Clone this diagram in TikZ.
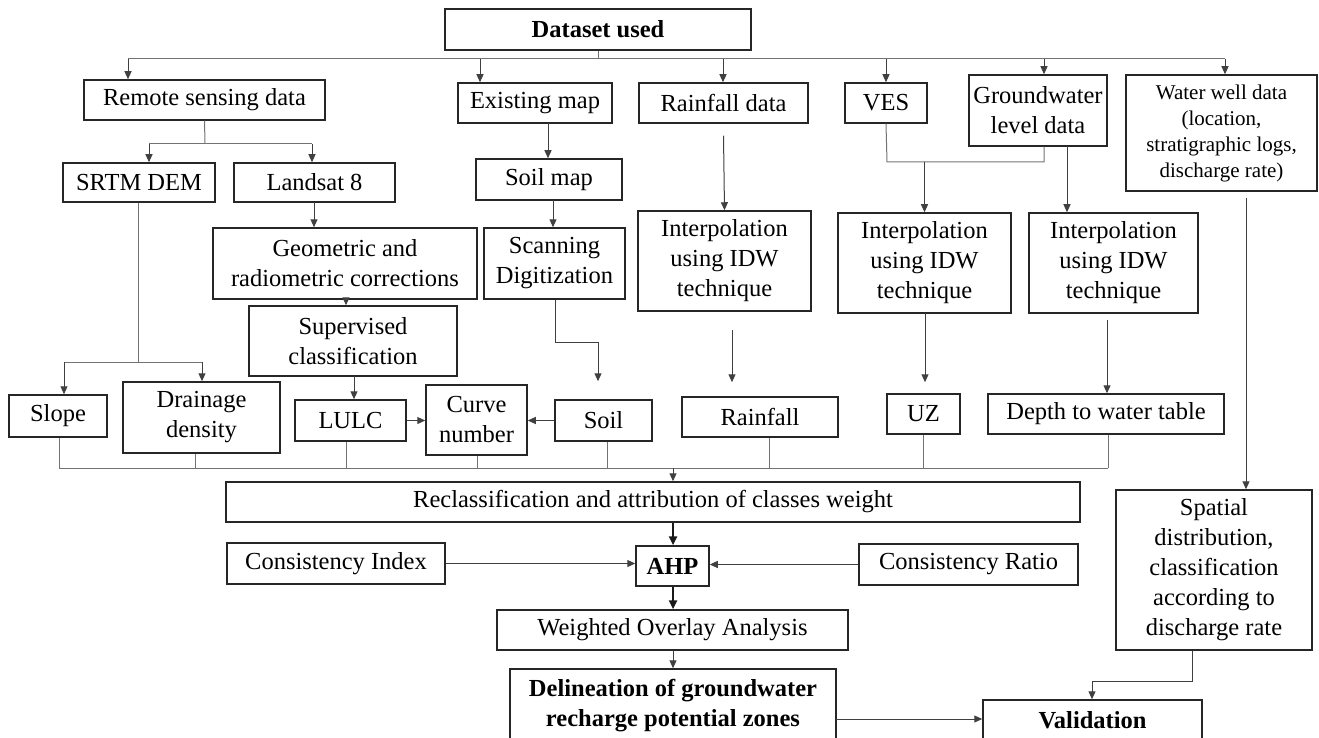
\documentclass[tikz,border=0pt]{standalone}
\usepackage{fontspec}
\setmainfont{Liberation Serif}
\usetikzlibrary{arrows.meta}
\newcommand\fsz{\fontsize{24.5}{30}\selectfont}
\newcommand\fss{\fontsize{21}{26}\selectfont}
\tikzset{
  box/.style={draw=black!85, line width=1.5pt, align=center, inner sep=0pt, font=\fsz},
  bbox/.style={box, font=\fsz\bfseries},
  ln/.style={draw=black!55, line width=1pt},
  arr/.style={draw=black!75, line width=1pt, -{Triangle[length=8pt,width=7pt]}},
  tarr/.style={draw=black!90, line width=2.4pt, -{Triangle[length=9pt,width=8pt]}},
}
\begin{document}
\begin{tikzpicture}[x=1pt,y=-1pt]
\useasboundingbox (0,0) rectangle (1319,738);
\clip (0,0) rectangle (1319,738);
% nodes
\node[bbox, minimum width=306, minimum height=41] (ds) at (598,29.5) {Dataset used};
\node[box, minimum width=241, minimum height=40] (rs) at (204.5,100) {Remote sensing data};
\node[box, minimum width=154, minimum height=40] (em) at (535,103) {Existing map};
\node[box, minimum width=169, minimum height=40] (rd) at (723.5,103) {Rainfall data};
\node[box, minimum width=82, minimum height=40] (ves) at (886,103) {VES};
\node[box, minimum width=138, minimum height=71] (gw) at (1038,110.5) {Groundwater\\level data};
\node[box, font=\fss, minimum width=191, minimum height=116] (ww) at (1221.5,133) {Water well data\\(location,\\stratigraphic logs,\\discharge rate)};
\node[box, minimum width=152, minimum height=39] (srtm) at (139,182.5) {SRTM DEM};
\node[box, minimum width=161, minimum height=39] (ls) at (314.5,182.5) {Landsat 8};
\node[box, minimum width=146, minimum height=41] (sm) at (549,179.5) {Soil map};
\node[box, minimum width=264, minimum height=71] (geo) at (345,263.5) {Geometric and\\radiometric corrections};
\node[box, minimum width=141, minimum height=71] (sd) at (554.5,263.5) {Scanning\\Digitization};
\node[box, minimum width=173, minimum height=100] (i1) at (724.5,261) {Interpolation\\using IDW\\technique};
\node[box, minimum width=173, minimum height=100] (i2) at (924.5,263) {Interpolation\\using IDW\\technique};
\node[box, minimum width=169, minimum height=100] (i3) at (1113.5,263) {Interpolation\\using IDW\\technique};
\node[box, minimum width=208, minimum height=70] (sup) at (353,341) {Supervised\\classification};
\node[box, minimum width=98, minimum height=42] (slope) at (58,416) {Slope};
\node[box, minimum width=157, minimum height=71] (dd) at (201.5,417.5) {Drainage\\density};
\node[box, minimum width=111, minimum height=41] (lulc) at (350.5,420.5) {LULC};
\node[box, minimum width=101, minimum height=70] (cn) at (476.5,420) {Curve\\number};
\node[box, minimum width=97, minimum height=41] (soil) at (603.5,420.5) {Soil};
\node[box, minimum width=156, minimum height=40] (rf) at (760,417) {Rainfall};
\node[box, minimum width=73, minimum height=40] (uz) at (923.5,414) {UZ};
\node[box, minimum width=236, minimum height=40] (dwt) at (1106,414) {Depth to water table};
\node[box, minimum width=854, minimum height=40] (rc) at (653,502) {Reclassification and attribution of classes weight};
\node[box, minimum width=218, minimum height=41] (ci) at (336,563.5) {Consistency Index};
\node[bbox, minimum width=73, minimum height=40] (ahp) at (672.5,566) {AHP};
\node[box, minimum width=219, minimum height=41] (cr) at (968.5,564.5) {Consistency Ratio};
\node[box, minimum width=351, minimum height=40] (wo) at (672.5,630) {Weighted Overlay Analysis};
\node[box, minimum width=196, minimum height=160] (sp) at (1214,570) {Spatial\\distribution,\\classification\\according to\\discharge rate};
\node[bbox, minimum width=326, minimum height=74] (del) at (673,706) {Delineation of groundwater\\recharge potential zones};
\node[bbox, minimum width=219, minimum height=40] (val) at (1092.5,720) {Validation};
% top bus
\coordinate (bc) at (598,59);
\coordinate (b1) at (128,59);
\coordinate (b2) at (480,59);
\coordinate (b3) at (723,59);
\coordinate (b4) at (886,59);
\coordinate (b5) at (1044,59);
\coordinate (b6) at (1225,59);
\draw[ln] (ds.south) -- (bc);
\draw[ln] (b1) -- (b6);
\draw[arr] (b1) -- (b1 |- rs.north);
\draw[arr] (b2) -- (b2 |- em.north);
\draw[arr] (b3) -- (b3 |- rd.north);
\draw[arr] (b4) -- (b4 |- ves.north);
\draw[arr] (b5) -- (b5 |- gw.north);
\draw[arr] (b6) -- (b6 |- ww.north);
% remote sensing split
\coordinate (r0) at (205,144);
\coordinate (r1) at (149,144);
\coordinate (r2) at (312,144);
\draw[ln] (rs.south) -- (r0);
\draw[ln] (r1) -- (r2);
\draw[arr] (r1) -- (r1 |- srtm.north);
\draw[arr] (r2) -- (r2 |- ls.north);
% existing map chain
\coordinate (e1) at (548,123);
\draw[arr] (e1) -- (e1 |- sm.north);
\coordinate (e2) at (553,200);
\draw[arr] (e2) -- (e2 |- sd.north);
% rainfall chain
\draw[arr] ([yshift=-12pt]rd.south) -- (i1.north);
\coordinate (f1) at (732,330);
\draw[arr, shorten >=14pt] (f1) -- (f1 |- rf.north);
% VES / groundwater merge
\coordinate (m1) at (887,162);
\coordinate (m2) at (1044,162);
\coordinate (m3) at (924.5,162);
\draw[ln] (ves.south) -- (m1) -- (m2) -- (m2 |- gw.south);
\draw[arr] (m3) -- (i2.north);
\coordinate (g1) at (1067,146);
\draw[arr] (g1) -- (g1 |- i3.north);
\coordinate (u1) at (925,313);
\draw[arr, shorten >=11pt] (u1) -- (u1 |- uz.north);
\coordinate (d1) at (1107,320);
\draw[arr] (d1) -- (d1 |- dwt.north);
% water well
\coordinate (w1) at (1246,198);
\draw[arr] (w1) -- (w1 |- sp.north);
% SRTM split
\coordinate (s0) at (138,362);
\coordinate (s1) at (64,362);
\coordinate (s2) at (202,362);
\draw[ln] (s0 |- srtm.south) -- (s0);
\draw[ln] (s1) -- (s2);
\draw[arr] (s1) -- (s1 |- slope.north);
\draw[arr] (s2) -- (s2 |- dd.north);
% Landsat chain
\coordinate (l1) at (314,202);
\draw[arr] (l1) -- (l1 |- geo.north);
\coordinate (l2) at (346,299);
\draw[arr] (l2) -- (l2 |- sup.north);
\coordinate (l3) at (354,376);
\draw[arr] (l3) -- (l3 |- lulc.north);
\draw[arr] (lulc.east) -- (lulc.east -| cn.west);
\draw[arr] (soil.west) -- (soil.west -| cn.east);
% scanning to soil
\coordinate (k1) at (555,342);
\coordinate (k2) at (598,342);
\draw[arr, shorten >=18pt] (k1 |- sd.south) -- (k1) -- (k2) -- (k2 |- soil.north);
% collector
\coordinate (c1) at (59,468);
\coordinate (c2) at (195,468);
\coordinate (c3) at (346,468);
\coordinate (c4) at (477,468);
\coordinate (c5) at (607,468);
\coordinate (c6) at (769,468);
\coordinate (c7) at (923,468);
\coordinate (c8) at (1108,468);
\coordinate (cc) at (673,468);
\draw[ln] (c1) -- (c8);
\draw[ln] (c1 |- slope.south) -- (c1);
\draw[ln] (c2 |- dd.south) -- (c2);
\draw[ln] (c3 |- lulc.south) -- (c3);
\draw[ln] (c4 |- cn.south) -- (c4);
\draw[ln] (c5 |- soil.south) -- (c5);
\draw[ln] (c6 |- rf.south) -- (c6);
\draw[ln] (c7 |- uz.south) -- (c7);
\draw[ln] (c8 |- dwt.south) -- (c8);
\draw[arr] (cc) -- (cc |- rc.north);
% AHP block
\draw[tarr] (cc |- rc.south) -- (cc |- ahp.north);
\draw[arr] (ci.east) -- (ci.east -| ahp.west);
\draw[arr] (cr.west) -- (cr.west -| ahp.east);
\draw[tarr] (cc |- ahp.south) -- (cc |- wo.north);
\draw[arr] (cc |- wo.south) -- (cc |- del.north);
\coordinate (v0) at (836,719);
\draw[arr] (v0) -- (v0 -| val.west);
% spatial to validation
\coordinate (p1) at (1192,681);
\coordinate (p2) at (1092,681);
\draw[arr] (p1 |- sp.south) -- (p1) -- (p2) -- (p2 |- val.north);
\end{tikzpicture}
\end{document}
